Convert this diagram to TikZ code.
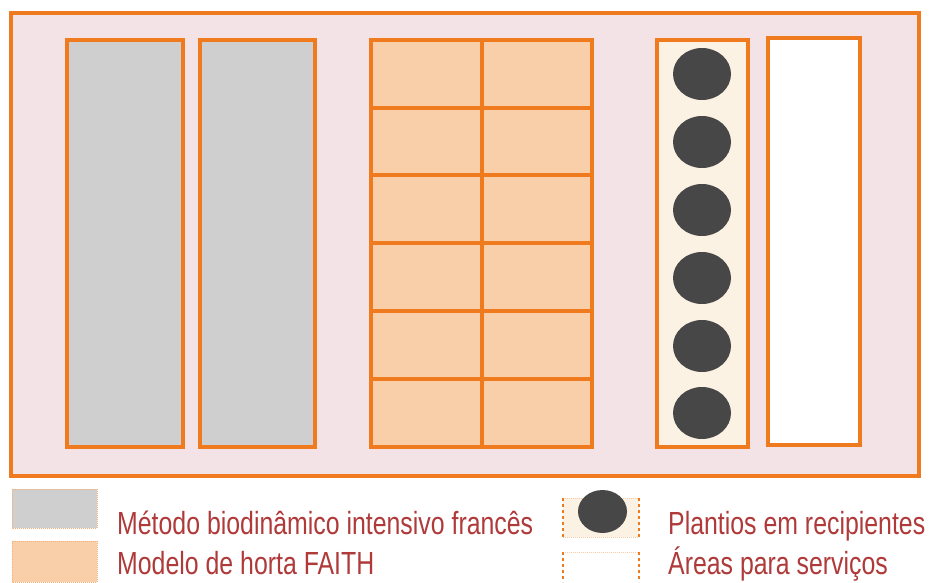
\documentclass[tikz,border=0pt]{standalone}
\usepackage{fontspec}
\setmainfont{Liberation Sans}
\newfontfamily\legfont[FakeStretch=0.777]{Liberation Sans}
\definecolor{bgpink}{HTML}{F3E3E7}
\definecolor{edgeor}{HTML}{EF7B1E}
\definecolor{fillgray}{HTML}{CFCFCF}
\definecolor{fillor}{HTML}{F8CFA8}
\definecolor{fillcream}{HTML}{FBF2E4}
\definecolor{potgray}{HTML}{474747}
\definecolor{legtext}{HTML}{B03A3A}
\begin{document}
\begin{tikzpicture}[x=1pt,y=-1pt,
  bed/.style={draw=edgeor,line width=3.5pt},
  grid/.style={draw=edgeor,line width=3.5pt},
  pot/.style={fill=potgray,draw=none},
  legbox/.style={draw=edgeor!60,line width=1pt,densely dotted},
  legside/.style={draw=edgeor,line width=1.5pt,dashed},
  legtop/.style={draw=edgeor!40,line width=1pt,densely dotted},
  legtxt/.style={text=legtext,anchor=base west,inner sep=0pt,font=\legfont\fontsize{32}{36}\selectfont}]
\useasboundingbox (0,0) rectangle (930,582);
\fill[white] (0,0) rectangle (930,582);
% outer area
\draw[fill=bgpink,draw=edgeor,line width=4pt] (11,13) rectangle (919,476);
% biodynamic beds
\draw[bed,fill=fillgray] (67,40) rectangle (183,447);
\draw[bed,fill=fillgray] (200,40) rectangle (315,447);
% FAITH grid
\draw[bed,fill=fillor] (371,40) rectangle (592,447);
\draw[grid] (482,40) -- (482,447);
\foreach \yy in {108,175,243,311,379}{\draw[grid] (371,\yy) -- (592,\yy);}
% containers
\draw[bed,fill=fillcream] (657,40) rectangle (748,447);
\foreach \yy in {74,142,210,278,346,413}{\fill[pot] (702,\yy) ellipse [x radius=29, y radius=26];}
% service area
\draw[bed,fill=white] (768,38) rectangle (860,445);
% legend
\draw[legbox,fill=fillgray] (12,489) rectangle (97,528);
\draw[legbox,fill=fillor] (12,541) rectangle (97,582);
\node[legtxt] (t1) at (117,534) {Método biodinâmico intensivo francês};
\node[legtxt] (t2) at (117,574) {Modelo de horta FAITH};
\fill[fillcream] (563,498) rectangle (639,537);
\draw[legtop] (563,498) -- (639,498) (563,537) -- (639,537);
\draw[legside] (563,498) -- (563,537) (639,498) -- (639,537);
\fill[pot] (602.5,511.5) ellipse [x radius=24.5, y radius=21.5];
\draw[legtop] (563,552) -- (639,552);
\draw[legside] (563,552) -- (563,582) (639,552) -- (639,582);
\node[legtxt] (t3) at (668,534) {Plantios em recipientes};
\node[legtxt] (t4) at (668,574) {Áreas para serviços};
\end{tikzpicture}
\end{document}
